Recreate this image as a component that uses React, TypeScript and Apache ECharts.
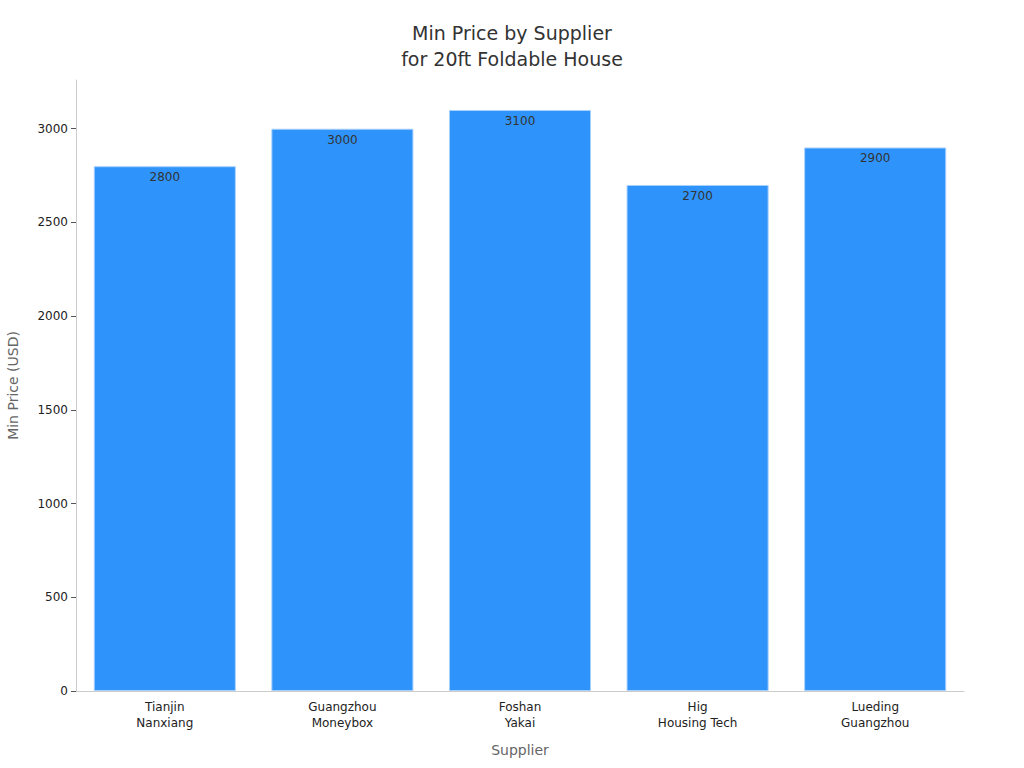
import { useEffect, useRef } from "react";
import * as echarts from "echarts";

const FONT = "DejaVu Sans";
const BAR = "#2e93fa";
const AXIS_LINE = "#cccccc";

const suppliers = ["Tianjin\nNanxiang", "Guangzhou\nMoneybox", "Foshan\nYakai", "Hig\nHousing Tech", "Lueding\nGuangzhou"];
const minPrices = [2800, 3000, 3100, 2700, 2900];

export default function App() {
  const elRef = useRef<HTMLDivElement>(null);

  useEffect(() => {
    const el = elRef.current;
    if (!el) return;
    const chart = echarts.init(el, undefined, { renderer: "svg" });
    chart.setOption({
      animation: false,
      backgroundColor: "#ffffff",
      textStyle: { fontFamily: FONT },
      title: {
        text: "Min Price by Supplier\nfor 20ft Foldable House",
        left: "center",
        top: 15,
        textStyle: { fontFamily: FONT, fontSize: 19, fontWeight: "normal", color: "#333333", lineHeight: 26 },
      },
      grid: { left: 76, right: 60, top: 80, bottom: 77, outerBoundsMode: "none", containLabel: false },
      xAxis: {
        type: "category",
        data: suppliers,
        name: "Supplier",
        nameLocation: "middle",
        nameGap: 52,
        nameTextStyle: { fontFamily: FONT, fontSize: 14, color: "#666666" },
        axisLine: { lineStyle: { color: AXIS_LINE } },
        axisTick: { alignWithLabel: true, lineStyle: { color: "#555555" }, length: 5 },
        axisLabel: { fontFamily: FONT, fontSize: 12, color: "#222222", lineHeight: 16, margin: 8 },
      },
      yAxis: {
        type: "value",
        min: 0,
        max: 3260,
        interval: 500,
        name: "Min Price (USD)",
        nameLocation: "middle",
        nameGap: 56,
        nameTextStyle: { fontFamily: FONT, fontSize: 14, color: "#666666" },
        axisLine: { show: true, lineStyle: { color: AXIS_LINE } },
        axisTick: { show: true, lineStyle: { color: "#555555" }, length: 5 },
        axisLabel: {
          fontFamily: FONT,
          fontSize: 12,
          color: "#222222",
          margin: 8,
          showMaxLabel: false,
          formatter: (v: number) => String(v),
        },
        splitLine: { show: false },
      },
      series: [
        {
          type: "bar",
          data: minPrices,
          barCategoryGap: "20%",
          itemStyle: { color: BAR, borderColor: "#a8d0fc", borderWidth: 1 },
          label: {
            show: true,
            position: "insideTop",
            distance: 5,
            fontFamily: FONT,
            fontSize: 12,
            color: "#333333",
          },
        },
      ],
    });
    return () => chart.dispose();
  }, []);

  return <div ref={elRef} style={{ position: "absolute", left: 0, top: 0, width: 1024, height: 768 }} />;
}
